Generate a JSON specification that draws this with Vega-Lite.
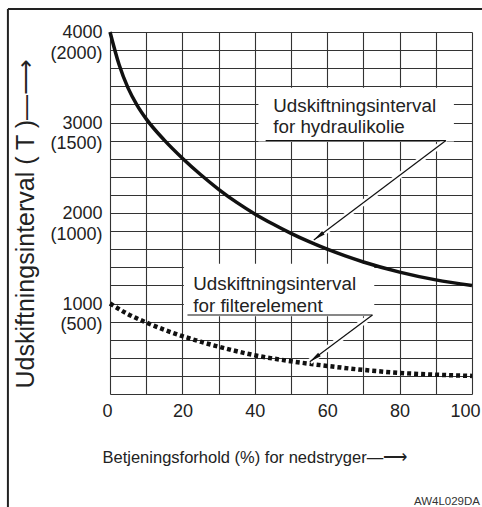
{
  "$schema": "https://vega.github.io/schema/vega-lite/v6.json",
  "width": 362,
  "height": 362,
  "autosize": {"type": "none"},
  "padding": {"left": 110, "top": 32, "right": 10, "bottom": 113},
  "background": "white",
  "config": {"view": {"stroke": null}, "font": "Liberation Sans"},
  "datasets": {
    "boxes": [
      {"x": 41, "x2": 95, "y": 2790, "y2": 3385},
      {"x": 20.4, "x2": 73, "y": 860, "y2": 1440}
    ],
    "hyd": [
      {"x": 0, "y": 4000}, {"x": 2.5, "y": 3640}, {"x": 5, "y": 3380}, {"x": 7.5, "y": 3190},
      {"x": 10, "y": 3040}, {"x": 15, "y": 2805}, {"x": 20, "y": 2605}, {"x": 25, "y": 2425},
      {"x": 30, "y": 2262}, {"x": 35, "y": 2117}, {"x": 40, "y": 1990}, {"x": 45, "y": 1878},
      {"x": 50, "y": 1775}, {"x": 55, "y": 1683}, {"x": 60, "y": 1600}, {"x": 65, "y": 1526},
      {"x": 70, "y": 1459}, {"x": 80, "y": 1347}, {"x": 90, "y": 1261}, {"x": 100, "y": 1199}
    ],
    "fil": [
      {"x": 0, "y": 1000}, {"x": 5, "y": 882}, {"x": 10, "y": 790}, {"x": 15, "y": 710},
      {"x": 20, "y": 640}, {"x": 25, "y": 578}, {"x": 30, "y": 523}, {"x": 40, "y": 428},
      {"x": 50, "y": 362}, {"x": 60, "y": 310}, {"x": 70, "y": 266}, {"x": 80, "y": 233},
      {"x": 90, "y": 213}, {"x": 100, "y": 200}
    ],
    "arrows": [
      {"x": 92.8, "x2": 56.3, "y": 2800, "y2": 1702},
      {"x": 72.5, "x2": 55.2, "y": 873, "y2": 357}
    ],
    "unders": [
      {"x": 43, "x2": 92.8, "y": 2800, "y2": 2800},
      {"x": 21.4, "x2": 72.5, "y": 873, "y2": 873}
    ],
    "heads": [
      {"x": 56.3, "y": 1702},
      {"x": 55.2, "y": 357}
    ],
    "notes": [
      {"x": 45.1, "y": 3119, "text": "Udskiftningsinterval"},
      {"x": 45.1, "y": 2887, "text": "for hydraulikolie"},
      {"x": 23.0, "y": 1149, "text": "Udskiftningsinterval"},
      {"x": 23.0, "y": 906, "text": "for filterelement"}
    ],
    "frame": [
      {"x": -28.2, "x2": -28.2, "y": 4254, "y2": -1250},
      {"x": -28.2, "x2": 103, "y": 4254, "y2": 4254}
    ],
    "code": [
      {"x": 102.2, "y": -1227, "text": "AW4L029DA"}
    ]
  },
  "layer": [
    {
      "data": {"name": "boxes"},
      "mark": {"type": "rect", "fill": "white", "stroke": null},
      "encoding": {
        "x": {
          "field": "x", "type": "quantitative",
          "scale": {"domain": [0, 100], "nice": false, "zero": false},
          "axis": {
            "values": [0, 10, 20, 30, 40, 50, 60, 70, 80, 90, 100],
            "tickCount": 100,
            "labelExpr": "datum.value % 20 == 0 ? datum.label : ''",
            "grid": true, "gridColor": "#333", "gridWidth": 1.1,
            "ticks": false, "tickSize": 0, "domain": false,
            "labelFont": "Liberation Sans", "labelFontSize": 18, "labelColor": "#222",
            "labelPadding": 22, "labelBaseline": "alphabetic",
            "labelFlush": true, "labelFlushOffset": 8, "labelOverlap": false,
            "title": "Betjeningsforhold (%) for nedstryger—⟶",
            "titleFont": "Liberation Sans", "titleFontSize": 16.5, "titleFontWeight": "normal",
            "titleColor": "#222", "titleX": -8, "titleY": 68, "titleAlign": "left",
            "titleBaseline": "alphabetic", "titleAnchor": "start"
          }
        },
        "x2": {"field": "x2"},
        "y": {
          "field": "y", "type": "quantitative",
          "scale": {"domain": [0, 4000], "nice": false, "zero": false},
          "axis": {
            "values": [0, 200, 400, 600, 800, 1000, 1200, 1400, 1600, 1800, 2000, 2200, 2400, 2600, 2800, 3000, 3200, 3400, 3600, 3800, 4000],
            "tickCount": 100,
            "format": "d",
            "labelExpr": "datum.value > 0 && datum.value % 1000 == 0 ? [datum.label, '(' + (datum.value / 2) + ')'] : ''",
            "grid": true, "gridColor": "#333", "gridWidth": 1.1,
            "ticks": false, "tickSize": 0, "domain": false,
            "labelFont": "Liberation Sans", "labelFontSize": 18, "labelColor": "#222",
            "labelPadding": 8, "labelBaseline": "alphabetic", "labelOffset": 5.5,
            "labelLineHeight": 20.5, "labelOverlap": false, "labelAlign": "right",
            "title": "Udskiftningsinterval ( T )—⟶",
            "titleFont": "Liberation Sans", "titleFontSize": 25, "titleFontWeight": "normal",
            "titleColor": "#222", "titleX": -77, "titleY": 356, "titleAngle": 270,
            "titleAlign": "left", "titleBaseline": "alphabetic", "titleAnchor": "start"
          }
        },
        "y2": {"field": "y2"}
      }
    },
    {
      "data": {"name": "hyd"},
      "mark": {"type": "line", "interpolate": "monotone", "color": "#111", "strokeWidth": 3.5},
      "encoding": {
        "x": {"field": "x", "type": "quantitative"},
        "y": {"field": "y", "type": "quantitative"}
      }
    },
    {
      "data": {"name": "fil"},
      "mark": {"type": "line", "interpolate": "monotone", "color": "#111", "strokeWidth": 4.5, "strokeDash": [4, 3], "strokeCap": "butt"},
      "encoding": {
        "x": {"field": "x", "type": "quantitative"},
        "y": {"field": "y", "type": "quantitative"}
      }
    },
    {
      "data": {"name": "arrows"},
      "mark": {"type": "rule", "color": "white", "strokeWidth": 6},
      "encoding": {
        "x": {"field": "x", "type": "quantitative"},
        "x2": {"field": "x2"},
        "y": {"field": "y", "type": "quantitative"},
        "y2": {"field": "y2"}
      }
    },
    {
      "data": {"name": "arrows"},
      "mark": {"type": "rule", "color": "#111", "strokeWidth": 1.2},
      "encoding": {
        "x": {"field": "x", "type": "quantitative"},
        "x2": {"field": "x2"},
        "y": {"field": "y", "type": "quantitative"},
        "y2": {"field": "y2"}
      }
    },
    {
      "data": {"name": "unders"},
      "mark": {"type": "rule", "color": "#111", "strokeWidth": 1.2},
      "encoding": {
        "x": {"field": "x", "type": "quantitative"},
        "x2": {"field": "x2"},
        "y": {"field": "y", "type": "quantitative"},
        "y2": {"field": "y2"}
      }
    },
    {
      "data": {"name": "heads"},
      "mark": {"type": "point", "shape": "M0,0L0.35,2L-0.35,2Z", "filled": true, "size": 144, "angle": 233, "color": "#111", "opacity": 1},
      "encoding": {
        "x": {"field": "x", "type": "quantitative"},
        "y": {"field": "y", "type": "quantitative"}
      }
    },
    {
      "data": {"name": "notes"},
      "mark": {"type": "text", "align": "left", "baseline": "alphabetic", "font": "Liberation Sans", "fontSize": 18.8, "color": "#222"},
      "encoding": {
        "x": {"field": "x", "type": "quantitative"},
        "y": {"field": "y", "type": "quantitative"},
        "text": {"field": "text"}
      }
    },
    {
      "data": {"name": "frame"},
      "mark": {"type": "rule", "color": "#222", "strokeWidth": 2},
      "encoding": {
        "x": {"field": "x", "type": "quantitative"},
        "x2": {"field": "x2"},
        "y": {"field": "y", "type": "quantitative"},
        "y2": {"field": "y2"}
      }
    },
    {
      "data": {"name": "code"},
      "mark": {"type": "text", "align": "right", "baseline": "alphabetic", "font": "Liberation Sans", "fontSize": 11.5, "color": "#333"},
      "encoding": {
        "x": {"field": "x", "type": "quantitative"},
        "y": {"field": "y", "type": "quantitative"},
        "text": {"field": "text"}
      }
    }
  ]
}
